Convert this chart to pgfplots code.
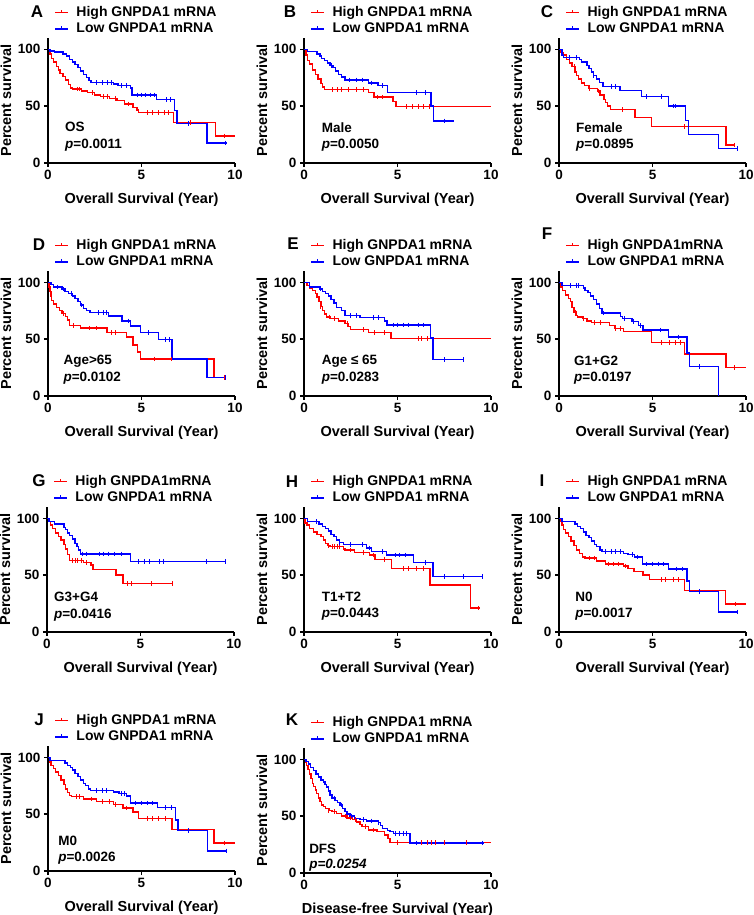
\documentclass[border=0pt]{standalone}
\usepackage{pgfplots}
\pgfplotsset{compat=1.18}
\usepackage{fontspec}
\setmainfont{Liberation Sans}

% one Kaplan-Meier panel, 1pt = 1px of the reference
\pgfplotsset{
  km/.style={
    scale only axis, width=187pt, height=125pt,
    xmin=0, xmax=10, ymin=0, ymax=110,
    axis lines=left, axis line style={-, line width=1.8pt}, clip=false,
    xtick={0,5,10}, ytick={0,50,100},
    tick align=outside, major tick length=4pt,
    every tick/.style={black, line width=1.6pt},
    tick label style={font=\bfseries\fontsize{13.5}{13.5}\selectfont},
    /pgf/number format/assume math mode=true,
    xlabel={Overall Survival (Year)}, ylabel={Percent survival},
    label style={font=\bfseries\fontsize{14.5}{15}\selectfont},
    xlabel style={at={(axis description cs:0.5,0)}, anchor=center, yshift=-37pt},
    ylabel style={at={(axis description cs:0,0.5)}, anchor=center, yshift=42pt},
    legend style={at={(axis description cs:0,1)}, anchor=south west,
      xshift=6.5pt, yshift=2.7pt, draw=none, fill=none, inner sep=0pt,
      row sep=4pt, column sep=7.5pt,
      font=\bfseries\fontsize{14}{16}\selectfont,
      nodes={inner sep=0pt, text height=9.8pt, text depth=2.5pt}},
    legend cell align=left,
  },
  hi/.style={red, line width=1.4pt, const plot, forget plot},
  lo/.style={blue, line width=1.4pt, const plot, forget plot},
  hic/.style={red, only marks, mark=|, mark size=2.3pt, mark options={line width=0.8pt}, forget plot},
  loc/.style={blue, only marks, mark=|, mark size=2.3pt, mark options={line width=0.8pt}, forget plot},
  hileg/.style={legend image code/.code={
    \draw[red, line width=1.3pt] (0pt,0pt) -- (13pt,0pt);
    \draw[red, line width=0.9pt] (6.5pt,0pt) -- (6.5pt,2.5pt);}},
  loleg/.style={legend image code/.code={
    \draw[blue, line width=1.3pt] (0pt,0pt) -- (13pt,0pt);
    \draw[blue, line width=0.9pt] (6.5pt,0pt) -- (6.5pt,2.5pt);}},
}
\tikzset{
  panel/.style={font=\bfseries\fontsize{17}{17}\selectfont, inner sep=0pt},
  anno/.style={font=\bfseries\fontsize{13.5}{14}\selectfont, anchor=west, inner sep=0pt},
}

\begin{document}
\begin{tikzpicture}
\useasboundingbox (0,0) rectangle (753pt,915pt);

% ---------- A ----------
\begin{axis}[km, at={(48pt,752pt)}]
\addplot[hi] coordinates {(0,100)(0.1,96)(0.2,92)(0.3,89)(0.45,85)(0.55,82)(0.65,79)(0.8,76)(0.95,73)(1.1,69)(1.2,66)(1.3,65)(1.8,63.5)(2.1,62)(2.5,60)(2.8,58.5)(3.3,57)(3.7,55)(4.1,52)(4.55,49)(4.75,46.5)(4.85,44.4)(6.7,35.5)(8.95,23.7)(10,23.7)};
\addplot[lo] coordinates {(0,100)(0.1,98.5)(0.35,97.5)(0.8,96)(1.0,94)(1.15,91)(1.3,89)(1.45,86.5)(1.6,84)(1.75,81)(1.9,78)(2.05,75)(2.2,72.5)(2.3,70.8)(3.5,69.5)(3.75,68)(4.4,66)(4.5,60)(5.8,56)(6.78,46)(6.9,35)(8.5,17.5)(9.55,17.5)};
\addplot[hic] coordinates {(1.55,65)(1.7,65)(2.35,62)(2.95,58.5)(3.15,58.5)(3.6,57)(4.3,52)(5.3,44.4)(5.6,44.4)(5.9,44.4)(6.2,44.4)(6.45,44.4)(7.6,35.5)(9.45,23.7)};
\addplot[loc] coordinates {(2.6,70.8)(2.9,70.8)(3.2,70.8)(3.4,70.8)(3.9,68)(4.2,68)(4.8,60)(5.0,60)(5.2,60)(5.45,60)(5.7,60)(6.35,56)(6.55,56)(7.5,35)(9.5,17.5)};
\addlegendimage{hileg}\addlegendentry{High GNPDA1 mRNA}
\addlegendimage{loleg}\addlegendentry{Low GNPDA1 mRNA}
\node[panel] at (rel axis cs:0,1) [xshift=-11pt, yshift=26pt] {A};
\node[anno] at (axis cs:0.91,32) {OS};
\node[anno] at (axis cs:0.91,16) {\textit{p}=0.0011};
\end{axis}

% ---------- B ----------
\begin{axis}[km, at={(304pt,752pt)}]
\addplot[hi] coordinates {(0,100)(0.1,95)(0.2,90)(0.3,87)(0.45,82)(0.6,78)(0.75,74)(0.9,70)(1.0,67)(1.1,64.7)(3.45,62)(3.75,58)(4.75,54)(4.93,49.7)(10,49.7)};
\addplot[lo] coordinates {(0,100)(0.2,98)(0.7,96)(0.85,94)(0.95,92)(1.1,90)(1.25,88)(1.4,86)(1.55,84)(1.7,81)(1.85,78)(2.0,75.5)(2.2,73)(3.45,70.5)(3.95,68)(4.45,62)(6.8,50)(6.93,37)(8.0,37)};
\addplot[hic] coordinates {(1.5,64.7)(1.8,64.7)(2.0,64.7)(2.4,64.7)(2.8,64.7)(3.2,64.7)(3.9,58)(4.2,58)(5.5,49.7)(5.8,49.7)(6.1,49.7)(6.4,49.7)(6.7,49.7)};
\addplot[loc] coordinates {(1.45,86)(2.45,73)(2.8,73)(3.1,73)(3.6,70.5)(4.2,68)(6.0,62)(6.5,62)(7.5,37)};
\addlegendimage{hileg}\addlegendentry{High GNPDA1 mRNA}
\addlegendimage{loleg}\addlegendentry{Low GNPDA1 mRNA}
\node[panel] at (rel axis cs:0,1) [xshift=-14pt, yshift=26pt] {B};
\node[anno] at (axis cs:0.94,31) {Male};
\node[anno] at (axis cs:0.94,16) {\textit{p}=0.0050};
\end{axis}

% ---------- C ----------
\begin{axis}[km, at={(559pt,752pt)}]
\addplot[hi] coordinates {(0,100)(0.1,97)(0.25,95)(0.4,91)(0.55,88)(0.7,85)(0.85,80)(0.95,77)(1.05,74)(1.2,70.5)(1.35,68)(1.6,65.7)(2.05,63.5)(2.2,60)(2.4,56)(2.5,53)(2.6,50)(2.75,47)(4.07,40)(4.95,32)(8.93,16)(9.43,16)};
\addplot[lo] coordinates {(0,100)(0.15,95)(0.25,93)(1.1,91)(1.2,89)(1.5,86)(1.6,83)(1.75,80)(1.85,77)(2.0,74)(2.15,71)(2.35,67.5)(3.27,64)(4.4,58.6)(5.86,50)(6.75,37.6)(6.93,25)(8.54,12.5)(9.55,12.5)};
\addplot[hic] coordinates {(0.8,85)(1.6,65.7)(2.1,63.5)(3.4,47)(6.7,32)(9.38,16)};
\addplot[loc] coordinates {(0.55,93)(0.95,93)(1.85,77)(2.8,67.5)(3.0,67.5)(4.65,58.6)(5.5,58.6)(6.1,50)(6.25,50)(9.55,12.5)};
\addlegendimage{hileg}\addlegendentry{High GNPDA1 mRNA}
\addlegendimage{loleg}\addlegendentry{Low GNPDA1 mRNA}
\node[panel] at (rel axis cs:0,1) [xshift=-12pt, yshift=26pt] {C};
\node[anno] at (axis cs:0.91,31) {Female};
\node[anno] at (axis cs:0.91,16) {\textit{p}=0.0895};
\end{axis}

% ---------- D ----------
\begin{axis}[km, at={(48pt,519pt)}]
\addplot[hi] coordinates {(0,100)(0.05,96)(0.1,92)(0.15,88)(0.2,84)(0.3,81)(0.45,78)(0.6,75)(0.75,72.5)(0.95,70)(1.05,67)(1.15,62)(1.73,59.7)(3.16,56)(4.2,52)(4.55,44.7)(4.77,38.8)(4.95,32.6)(8.87,16.5)(9.5,16.5)};
\addplot[lo] coordinates {(0,100)(0.15,98)(0.3,96)(0.75,94)(0.9,92)(1.1,90)(1.3,88)(1.45,86)(1.6,83)(1.75,80)(1.9,77)(2.05,75)(2.25,73.5)(3.25,70.5)(3.96,66)(4.41,61.7)(4.95,56)(5.9,49.5)(6.64,32.5)(8.5,16.5)(9.5,16.5)};
\addplot[hic] coordinates {(0.8,72.5)(1.35,62)(2.2,59.7)(2.6,59.7)(3.4,56)(3.6,56)(5.7,32.6)(6.6,32.6)(9.45,16.5)};
\addplot[loc] coordinates {(0.5,96)(0.85,94)(1.25,90)(1.8,80)(2.7,73.5)(2.95,73.5)(3.1,73.5)(4.3,66)(5.35,56)(6.3,49.5)(6.5,49.5)(9.5,16.5)};
\addlegendimage{hileg}\addlegendentry{High GNPDA1 mRNA}
\addlegendimage{loleg}\addlegendentry{Low GNPDA1 mRNA}
\node[panel] at (rel axis cs:0,1) [xshift=-9pt, yshift=26pt] {D};
\node[anno] at (axis cs:0.82,31) {Age>65};
\node[anno] at (axis cs:0.82,16) {\textit{p}=0.0102};
\end{axis}

% ---------- E ----------
\begin{axis}[km, at={(304pt,519pt)}]
\addplot[hi] coordinates {(0,100)(0.15,97)(0.3,95)(0.45,93)(0.6,90)(0.7,87)(0.8,83)(0.9,79)(1.0,75)(1.1,72)(1.2,69.5)(1.4,68)(1.85,66)(2.2,64)(2.35,61)(2.5,58.5)(3.45,56)(4.66,50.5)(10,50.5)};
\addplot[lo] coordinates {(0,100)(0.3,96)(0.85,94)(1.0,92)(1.15,90)(1.3,88)(1.45,85)(1.6,82)(1.75,78)(2.0,75)(2.2,71)(3.0,69)(4.3,66)(4.43,62.5)(6.75,51)(6.89,32)(8.54,32)};
\addplot[hic] coordinates {(0.9,79)(1.35,69.5)(1.6,68)(2.3,64)(3.2,58.5)(3.75,56)(4.3,56)(6.1,50.5)(6.3,50.5)(6.6,50.5)};
\addplot[loc] coordinates {(0.9,94)(2.5,71)(2.8,71)(3.7,69)(4.0,69)(4.8,62.5)(5.0,62.5)(5.3,62.5)(5.6,62.5)(6.1,62.5)(6.4,62.5)(7.5,32)(8.54,32)};
\addlegendimage{hileg}\addlegendentry{High GNPDA1 mRNA}
\addlegendimage{loleg}\addlegendentry{Low GNPDA1 mRNA}
\node[panel] at (rel axis cs:0,1) [xshift=-11pt, yshift=27pt] {E};
\node[anno] at (axis cs:0.94,31) {Age ≤ 65};
\node[anno] at (axis cs:0.94,16) {\textit{p}=0.0283};
\end{axis}

% ---------- F ----------
\begin{axis}[km, at={(559pt,519pt)}]
\addplot[hi] coordinates {(0,100)(0.1,96)(0.2,93)(0.35,89)(0.5,86)(0.6,83)(0.7,78)(0.8,74)(0.9,71)(1.0,69.5)(1.25,68)(1.5,66)(1.75,64.7)(2.7,62)(3.0,59.5)(3.45,56.5)(4.95,47)(6.71,37)(8.93,25)(10,25)};
\addplot[lo] coordinates {(0,100)(0.15,97)(1.3,95)(1.4,93)(1.55,91)(1.7,88)(1.85,85)(2.0,81)(2.15,77)(2.3,73)(3.3,70)(3.4,68)(3.9,65.6)(4.25,62)(4.5,58)(5.86,52)(6.84,38)(6.98,26)(8.54,0)};
\addplot[hic] coordinates {(0.85,74)(1.3,68)(1.9,64.7)(2.2,64.7)(3.0,59.5)(3.3,59.5)(5.5,47)(5.9,47)(6.2,47)(6.5,47)(9.4,25)};
\addplot[loc] coordinates {(0.6,97)(0.95,97)(1.05,97)(2.35,73)(3.5,68)(4.0,65.6)(4.35,62)(5.4,58)(6.4,52)(7.5,26)};
\addlegendimage{hileg}\addlegendentry{High GNPDA1mRNA}
\addlegendimage{loleg}\addlegendentry{Low GNPDA1 mRNA}
\node[panel] at (rel axis cs:0,1) [xshift=-12pt, yshift=37.6pt] {F};
\node[anno] at (axis cs:0.8,31) {G1+G2};
\node[anno] at (axis cs:0.8,16) {\textit{p}=0.0197};
\end{axis}

% ---------- G ----------
\begin{axis}[km, at={(47pt,283pt)}]
\addplot[hi] coordinates {(0,100)(0.1,97)(0.2,94)(0.3,91)(0.45,87)(0.6,84)(0.75,81)(0.9,77)(1.0,73)(1.1,68)(1.2,63)(1.95,61)(2.35,59)(2.45,55)(3.7,50)(4.06,42.6)(6.74,42.6)};
\addplot[lo] coordinates {(0,100)(0.1,97)(0.4,95)(0.9,92)(1.0,90)(1.1,87)(1.2,85)(1.35,82)(1.5,78)(1.6,75)(1.7,72)(1.8,68.8)(4.45,62)(9.55,62)};
\addplot[hic] coordinates {(1.35,63)(1.5,63)(1.65,63)(1.85,63)(2.1,61)(4.3,42.6)(4.5,42.6)(5.6,42.6)(6.7,42.6)};
\addplot[loc] coordinates {(1.9,68.8)(2.1,68.8)(2.8,68.8)(3.0,68.8)(3.3,68.8)(3.6,68.8)(4.0,68.8)(4.9,62)(5.2,62)(5.5,62)(6.0,62)(6.2,62)(8.5,62)(9.55,62)};
\addlegendimage{hileg}\addlegendentry{High GNPDA1mRNA}
\addlegendimage{loleg}\addlegendentry{Low GNPDA1 mRNA}
\node[panel] at (rel axis cs:0,1) [xshift=-8pt, yshift=26.6pt] {G};
\node[anno] at (axis cs:0.37,31) {G3+G4};
\node[anno] at (axis cs:0.37,15) {\textit{p}=0.0416};
\end{axis}

% ---------- H ----------
\begin{axis}[km, at={(304pt,283pt)}]
\addplot[hi] coordinates {(0,100)(0.05,96)(0.15,94)(0.3,91)(0.5,88)(0.7,86)(0.9,84)(1.05,81)(1.15,78)(1.25,76)(1.4,75)(2.1,73)(2.2,72)(2.7,70)(3.5,67.6)(3.8,64)(4.68,56)(6.73,41.5)(8.9,21)(9.4,21)};
\addplot[lo] coordinates {(0,100)(0.2,97)(0.8,95)(1.0,93)(1.15,91)(1.3,89)(1.45,86)(1.6,84)(1.75,81)(1.9,79)(2.1,77)(3.35,74)(3.6,71)(4.4,67.6)(5.84,61)(6.9,49)(9.54,49)};
\addplot[hic] coordinates {(1.3,76)(1.5,75)(1.6,75)(1.8,75)(1.9,75)(2.5,72)(3.2,70)(3.7,67.6)(4.3,64)(5.3,56)(5.6,56)(6.0,56)(6.4,56)(9.35,21)};
\addplot[loc] coordinates {(0.65,97)(1.9,79)(2.5,77)(3.1,77)(3.5,74)(4.2,71)(4.9,67.6)(5.1,67.6)(5.4,67.6)(6.5,61)(7.5,49)(8.5,49)(9.54,49)};
\addlegendimage{hileg}\addlegendentry{High GNPDA1 mRNA}
\addlegendimage{loleg}\addlegendentry{Low GNPDA1 mRNA}
\node[panel] at (rel axis cs:0,1) [xshift=-12pt, yshift=25.6pt] {H};
\node[anno] at (axis cs:0.94,31) {T1+T2};
\node[anno] at (axis cs:0.94,16) {\textit{p}=0.0443};
\end{axis}

% ---------- I ----------
\begin{axis}[km, at={(559pt,283pt)}]
\addplot[hi] coordinates {(0,100)(0.07,97)(0.15,94)(0.25,90)(0.35,87)(0.5,84)(0.65,80)(0.8,76)(0.95,72)(1.1,69)(1.25,66)(1.4,65)(2.0,62.6)(2.5,60)(3.45,58)(3.7,56)(4.0,53)(4.5,50)(4.85,46)(6.7,36.5)(8.9,24.7)(10,24.7)};
\addplot[lo] coordinates {(0,100)(0.15,97)(0.85,95)(1.0,93)(1.15,91)(1.3,88)(1.45,85)(1.6,83)(1.75,80)(1.9,77)(2.0,75)(2.2,72)(2.3,71)(3.45,69)(3.7,68)(4.05,66)(4.48,60)(5.86,55.6)(6.84,45)(6.98,35.6)(8.54,17.6)(9.55,17.6)};
\addplot[hic] coordinates {(1.6,65)(1.9,65)(2.65,60)(2.9,60)(3.2,60)(3.55,58)(5.5,46)(5.7,46)(6.1,46)(6.4,46)(9.45,24.7)};
\addplot[loc] coordinates {(2.5,71)(2.8,71)(3.0,71)(3.3,71)(3.9,68)(4.2,66)(4.7,60)(5.0,60)(5.3,60)(5.6,60)(6.3,55.6)(6.6,55.6)(7.5,35.6)(9.55,17.6)};
\addlegendimage{hileg}\addlegendentry{High GNPDA1 mRNA}
\addlegendimage{loleg}\addlegendentry{Low GNPDA1 mRNA}
\node[panel] at (rel axis cs:0,1) [xshift=-17pt, yshift=26pt] {I};
\node[anno] at (axis cs:0.86,31) {N0};
\node[anno] at (axis cs:0.86,16) {\textit{p}=0.0017};
\end{axis}

% ---------- J ----------
\begin{axis}[km, at={(48pt,44pt)}]
\addplot[hi] coordinates {(0,100)(0.07,96)(0.15,93)(0.3,90)(0.4,87)(0.55,84)(0.7,80)(0.85,76)(0.95,72)(1.05,69)(1.15,66.5)(1.25,65.6)(1.9,63.5)(2.6,61)(3.5,58.5)(4.0,55.6)(4.55,51.8)(4.85,46)(6.64,36.5)(8.88,24.7)(10,24.7)};
\addplot[lo] coordinates {(0,100)(0.1,97)(0.9,95)(1.05,93)(1.2,91)(1.3,89)(1.45,86)(1.6,83)(1.75,80)(1.9,77)(2.0,75)(2.15,72)(2.27,71)(3.5,69.5)(3.8,68)(4.2,66)(4.41,59.7)(5.84,56)(6.82,45)(6.96,35.6)(8.52,17.7)(9.55,17.7)};
\addplot[hic] coordinates {(1.5,65.6)(1.7,65.6)(2.3,63.5)(2.9,61)(3.3,61)(3.6,58.5)(4.2,55.6)(5.3,46)(5.6,46)(5.9,46)(6.3,46)(9.45,24.7)};
\addplot[loc] coordinates {(2.6,71)(2.9,71)(3.1,71)(3.9,68)(4.1,68)(4.7,59.7)(5.0,59.7)(5.3,59.7)(5.6,59.7)(6.3,56)(6.6,56)(7.5,35.6)(9.55,17.7)};
\addlegendimage{hileg}\addlegendentry{High GNPDA1 mRNA}
\addlegendimage{loleg}\addlegendentry{Low GNPDA1 mRNA}
\node[panel] at (rel axis cs:0,1) [xshift=-9pt, yshift=26.7pt] {J};
\node[anno] at (axis cs:0.54,26.5) {M0};
\node[anno] at (axis cs:0.54,11.5) {\textit{p}=0.0026};
\end{axis}

% ---------- K ----------
\begin{axis}[km, at={(304pt,42pt)}, xlabel={Disease-free Survival (Year)}]
\addplot[hi] coordinates {(0,100)(0.07,97)(0.14,94.8)(0.22,91)(0.3,87)(0.38,83)(0.45,79)(0.52,76)(0.6,73)(0.68,70)(0.76,66)(0.86,62.7)(0.95,60)(1.03,58.3)(1.15,56.5)(1.35,55)(1.5,54)(1.75,52.5)(2.0,50)(2.3,48.5)(2.6,47)(2.8,45)(3.0,42.5)(3.1,40.8)(3.45,38)(3.9,36.4)(4.3,33.5)(4.5,30.5)(4.6,27)(10,27)};
\addplot[lo] coordinates {(0,100)(0.1,98)(0.23,96)(0.35,93)(0.5,90)(0.65,87)(0.77,84.5)(0.9,82)(1.03,80)(1.12,78)(1.21,75.8)(1.3,72)(1.39,68.5)(1.5,66)(1.66,64)(1.8,62)(1.93,59.8)(2.05,57)(2.19,54)(2.3,52)(2.46,50)(2.7,48)(3.0,47)(3.35,45.8)(3.98,44.6)(4.1,42)(4.2,39.4)(4.45,37.5)(4.6,36.4)(4.8,35)(5.67,26.5)(9.6,26.5)};
\addplot[hic] coordinates {(1.3,55)(1.6,54)(2.2,50)(2.5,48.5)(2.75,47)(3.3,40.8)(3.7,38)(5.0,27)(6.3,27)(6.6,27)(6.8,27)(7.0,27)(7.5,27)(8.7,27)};
\addplot[loc] coordinates {(1.6,66)(2.0,59.8)(2.55,50)(3.2,47)(3.6,45.8)(4.0,44.6)(4.9,35)(5.1,35)(5.3,35)(5.5,35)(6.0,26.5)(9.55,26.5)};
\addlegendimage{hileg}\addlegendentry{High GNPDA1 mRNA}
\addlegendimage{loleg}\addlegendentry{Low GNPDA1 mRNA}
\node[panel] at (rel axis cs:0,1) [xshift=-12pt, yshift=28pt] {K};
\node[anno] at (axis cs:0.27,21) {DFS};
\node[anno] at (axis cs:0.27,7) {\textit{p=0.0254}};
\end{axis}
\end{tikzpicture}
\end{document}
